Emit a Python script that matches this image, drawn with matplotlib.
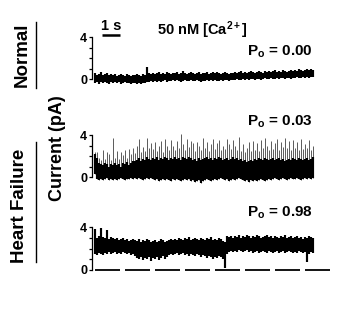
import matplotlib
matplotlib.use("Agg")
import matplotlib.pyplot as plt
import numpy as np
from matplotlib.lines import Line2D

plt.rcParams['font.family'] = ['Liberation Sans', 'DejaVu Sans']
plt.rcParams['font.weight'] = 'bold'
plt.rcParams['mathtext.fontset'] = 'custom'
plt.rcParams['mathtext.rm'] = 'Liberation Sans:bold'
plt.rcParams['mathtext.it'] = 'Liberation Sans:bold'
plt.rcParams['mathtext.bf'] = 'Liberation Sans:bold'
plt.rcParams['lines.scale_dashes'] = False

# ---- data: current envelope per time bin (pA), bin width DT seconds ----
DT = 0.111
normal_hi = [0.6,0.4,0.5,0.7,0.4,0.5,0.6,0.4,0.5,0.4,
             0.5,0.3,0.4,0.5,0.4,0.3,0.5,0.4,0.3,0.4,
             0.4,0.5,0.4,0.3,0.5,0.4,1.1,0.6,0.5,0.6,
             0.5,0.6,0.7,0.5,0.6,0.5,0.7,0.6,0.5,0.6,
             0.6,0.7,0.5,0.6,0.8,0.6,0.5,0.6,0.7,0.6,
             0.5,0.6,0.7,0.5,0.6,0.6,0.7,0.5,0.6,0.7,
             0.6,0.7,0.6,0.5,0.6,0.7,0.6,0.5,0.6,0.6,
             0.7,0.6,0.7,0.8,0.6,0.7,0.6,0.7,0.8,0.7,
             0.6,0.7,0.8,0.7,0.6,0.8,0.7,0.8,0.7,0.8,
             0.9,0.7,0.8,0.7,0.9,0.8,0.7,0.8,0.9,0.8,
             0.9,0.8,1.0,0.9,0.8,0.9,1.0,0.9,1.0,0.9]
normal_lo = [-0.4,-0.3,-0.5,-0.3,-0.4,-0.3,-0.4,-0.5,-0.3,-0.4,
             -0.3,-0.4,-0.3,-0.5,-0.4,-0.3,-0.4,-0.4,-0.5,-0.4,
             -0.4,-0.5,-0.4,-0.5,-0.4,-0.4,-0.3,-0.3,-0.2,-0.3,
             -0.2,-0.3,-0.2,-0.3,-0.2,-0.1,-0.3,-0.2,-0.2,-0.1,
             -0.2,-0.1,-0.2,-0.3,-0.2,-0.1,-0.2,-0.2,-0.1,-0.2,
             -0.2,-0.1,-0.2,-0.3,-0.2,-0.2,-0.1,-0.2,-0.1,-0.2,
             -0.1,-0.2,-0.2,-0.1,-0.2,-0.1,-0.1,-0.2,-0.1,-0.1,
             -0.1,0.0,-0.1,-0.1,0.0,-0.1,0.0,-0.1,0.0,0.0,
             -0.1,0.0,0.0,-0.1,0.0,0.1,0.0,0.0,0.1,0.0,
             0.0,0.1,0.0,0.1,0.1,0.0,0.1,0.1,0.0,0.1,
             0.1,0.2,0.1,0.1,0.2,0.1,0.2,0.1,0.2,0.2]
hf_low_lo = [0.3,-0.2,-0.3,-0.2,-0.3,-0.2,-0.1,-0.3,-0.2,-0.3,
             -0.2,-0.3,-0.2,-0.1,-0.2,-0.3,-0.2,-0.2,-0.1,-0.2,
             -0.1,-0.2,-0.1,-0.2,-0.3,-0.2,-0.1,-0.2,-0.1,-0.2,
             -0.3,-0.2,-0.4,-0.3,-0.2,-0.3,-0.2,-0.3,-0.4,-0.2,
             -0.3,-0.2,-0.3,-0.4,-0.3,-0.2,-0.3,-0.2,-0.4,-0.3,
             -0.5,-0.4,-0.3,-0.6,-0.4,-0.3,-0.2,-0.3,-0.4,-0.3,
             -0.2,-0.3,-0.2,-0.1,-0.2,-0.3,-0.2,-0.4,-0.3,-0.2,
             -0.3,-0.2,-0.1,-0.2,-0.3,-0.4,-0.3,-0.5,-0.3,-0.4,
             -0.3,-0.4,-0.3,-0.2,-0.3,-0.4,-0.3,-0.2,-0.3,-0.2,
             -0.1,-0.2,-0.3,-0.2,-0.1,-0.2,-0.3,-0.2,-0.1,-0.2,
             -0.2,-0.1,-0.2,-0.3,-0.2,-0.1,-0.2,-0.1,-0.2,-0.1]
hf_low_hi = [2.2,1.8,1.3,1.2,1.1,1.3,1.2,1.0,1.2,1.1,
             1.3,1.1,1.2,1.0,1.3,1.2,1.4,1.1,1.3,1.5,
             1.5,1.6,1.8,1.5,1.7,1.6,1.9,1.7,1.6,1.8,
             1.7,1.9,1.6,1.8,1.7,1.9,1.8,1.6,1.8,1.7,
             1.9,1.7,1.8,1.6,1.9,1.8,1.7,1.9,1.8,1.6,
             1.7,1.5,1.8,1.6,1.7,1.8,1.9,1.7,1.8,1.6,
             1.8,1.7,1.9,1.8,1.6,1.7,1.8,1.6,1.7,1.9,
             1.7,1.8,1.6,1.7,1.5,1.6,1.4,1.5,1.6,1.5,
             1.7,1.6,1.8,1.7,1.6,1.8,1.7,1.6,1.7,1.8,
             1.6,1.7,1.8,1.6,1.7,1.5,1.6,1.7,1.6,1.8,
             1.7,1.6,1.8,1.7,1.6,1.7,1.8,1.6,1.7,1.9]
hf_low_peak = [2.4,2.4,1.8,1.6,2.6,1.7,2.4,2.2,1.6,3.7,
               1.8,2.5,1.7,2.4,2.1,2.6,1.8,2.7,2.2,2.8,
               2.3,3.0,3.6,2.4,2.9,2.5,3.7,2.8,3.2,2.7,
               3.3,2.5,3.0,3.4,2.4,3.6,3.0,2.6,3.5,3.0,
               2.6,3.4,2.8,4.1,3.1,2.6,3.6,2.9,3.4,3.2,
               2.5,3.3,3.0,2.6,3.7,2.8,3.3,2.5,3.1,3.6,
               2.7,3.2,3.5,2.6,3.0,2.7,3.6,3.1,2.7,3.5,
               3.0,2.6,3.8,2.5,3.1,2.4,2.8,3.3,2.5,3.4,
               2.6,3.2,2.5,3.5,2.8,3.7,3.0,2.6,3.4,2.7,
               3.2,3.6,2.6,3.3,2.9,3.7,2.8,3.4,2.6,3.5,
               2.8,3.3,2.6,3.6,2.7,3.1,2.8,3.5,2.6,3.0]
hf_high_hi = [3.8,3.0,3.2,3.9,3.1,3.0,3.7,2.9,3.1,3.0,
              2.9,3.0,2.8,2.9,3.0,2.8,2.9,2.7,2.8,2.9,
              2.8,2.7,2.9,2.6,2.8,2.7,2.9,2.8,2.6,2.7,
              2.8,2.6,2.7,2.9,2.8,2.6,2.7,2.8,2.9,2.8,
              2.9,2.8,3.0,2.9,2.8,3.0,2.9,3.1,2.8,2.9,
              3.0,2.9,2.8,3.0,2.9,2.8,3.0,2.9,3.1,2.8,
              2.9,2.8,3.0,2.9,2.7,2.6,3.2,3.1,3.2,3.0,
              3.2,3.1,3.3,3.0,3.2,3.1,3.3,3.2,3.0,3.2,
              3.1,3.3,3.2,3.0,3.1,3.2,3.3,3.1,3.2,3.0,
              3.2,3.1,3.0,3.2,3.1,3.3,3.0,3.1,3.2,3.0,
              3.1,3.2,3.0,3.1,2.9,3.1,3.0,3.2,3.1,3.0]
hf_high_lo = [1.5,1.4,1.6,1.5,1.4,1.6,1.5,1.7,1.5,1.6,
              1.7,1.5,1.6,1.5,1.7,1.6,1.5,1.6,1.4,1.5,
              1.3,1.1,1.0,1.2,0.9,1.1,1.0,1.2,0.8,1.1,
              1.0,1.2,0.9,1.1,1.3,1.0,1.2,1.4,1.5,1.4,
              1.5,1.6,1.4,1.5,1.6,1.4,1.5,1.3,1.5,1.4,
              1.3,1.5,1.4,1.2,1.4,1.3,1.1,1.3,1.2,1.0,
              1.2,1.1,1.3,1.2,1.0,0.2,1.5,1.7,1.8,1.7,
              1.8,1.7,1.9,1.8,1.7,1.8,1.9,1.7,1.8,1.6,
              1.7,1.8,1.6,1.7,1.8,1.7,1.6,1.8,1.7,1.6,
              1.7,1.8,1.6,1.7,1.8,1.6,1.7,1.8,1.7,1.6,
              1.7,1.6,1.8,1.7,1.6,1.7,0.7,1.5,1.7,1.6]

lows = [normal_lo, hf_low_lo, hf_high_lo]
highs = [normal_hi, hf_low_hi, hf_high_hi]
peaks = [None, hf_low_peak, None]
po_labels = ["0.00", "0.03", "0.98"]
y_ticks = [0, 1, 2, 3, 4]
y_ticklabels = ["0", "", "", "", "4"]

W, H = 339, 324
fig = plt.figure(figsize=(W/100, H/100), dpi=100)

def fx(px):
    return px / W

def fy(py):
    return 1 - py / H

# pixel layout: (y of 4 pA, y of 0 pA, y of Po label)
rows = [(37, 79, 52), (135, 177, 122), (227, 270, 213)]
ax_left, ax_right = 92, 334
px_per_s = 18.0
x0 = -0.12
ymin, ymax = -1.0, 4.5

axes = []
for (y4, y0, ypo), lo, hi, pk, po in zip(rows, lows, highs, peaks, po_labels):
    s = (y0 - y4) / 4.0
    bottom = y0 + (0 - ymin) * s
    top = y4 - (ymax - 4) * s
    ax = fig.add_axes([fx(ax_left), fy(bottom), fx(ax_right) - fx(ax_left),
                       (bottom - top) / H])
    t = np.arange(len(lo)) * DT + DT / 2
    if pk is not None:
        ax.vlines(t, lo, pk, color='0.25', lw=0.6)
    ax.vlines(t, lo, hi, color='black', lw=1.55)
    ax.set_xlim(x0, x0 + (ax_right - ax_left) / px_per_s)
    ax.set_ylim(ymin, ymax)
    for sp in ['top', 'right', 'bottom']:
        ax.spines[sp].set_visible(False)
    ax.spines['left'].set_bounds(0, 4)
    ax.spines['left'].set_linewidth(0.9)
    ax.set_xticks([])
    ax.set_yticks(y_ticks)
    ax.set_yticklabels(y_ticklabels)
    ax.tick_params(axis='y', direction='out', length=2.5, width=0.9, pad=1,
                   labelsize=9)
    ax.patch.set_alpha(0)
    fig.text(fx(313), fy(ypo), r'$\mathrm{P_o}$ = ' + po, ha='right',
             va='center', fontsize=11, fontweight='bold')
    axes.append(ax)

# zero dashed line in last panel
axes[2].plot([0.05, 13.1], [0, 0], color='black', lw=1.3, dashes=(18, 3.6),
             clip_on=False)

# 1 s scale bar on top panel
a0 = axes[0]
sb_start = (102 - ax_left) / px_per_s + x0
a0.plot([sb_start, sb_start + 1.0], [4.15, 4.15], color='black', lw=1.8,
        clip_on=False, solid_capstyle='butt')
fig.text(fx(111), fy(26), '1 s', ha='center', va='center', fontsize=10.5,
         fontweight='bold')
fig.text(fx(157), fy(35), r'50 nM [Ca$^{\mathrm{2+}}$]', ha='left',
         va='baseline', fontsize=10.5, fontweight='bold')

# group labels
fig.text(fx(22), fy(55), 'Normal', rotation=90, ha='center', va='center',
         fontsize=13.5, fontweight='bold')
fig.text(fx(20), fy(206), 'Heart Failure', rotation=90, ha='center',
         va='center', fontsize=13.5, fontweight='bold')
fig.text(fx(57), fy(148), 'Current (pA)', rotation=90, ha='center',
         va='center', fontsize=13, fontweight='bold')
fig.add_artist(Line2D([fx(36), fx(36)], [fy(22), fy(88)], color='black',
                      lw=1.0))
fig.add_artist(Line2D([fx(36), fx(36)], [fy(142), fy(262)], color='black',
                      lw=1.0))

fig.savefig('out.png', dpi=100)
